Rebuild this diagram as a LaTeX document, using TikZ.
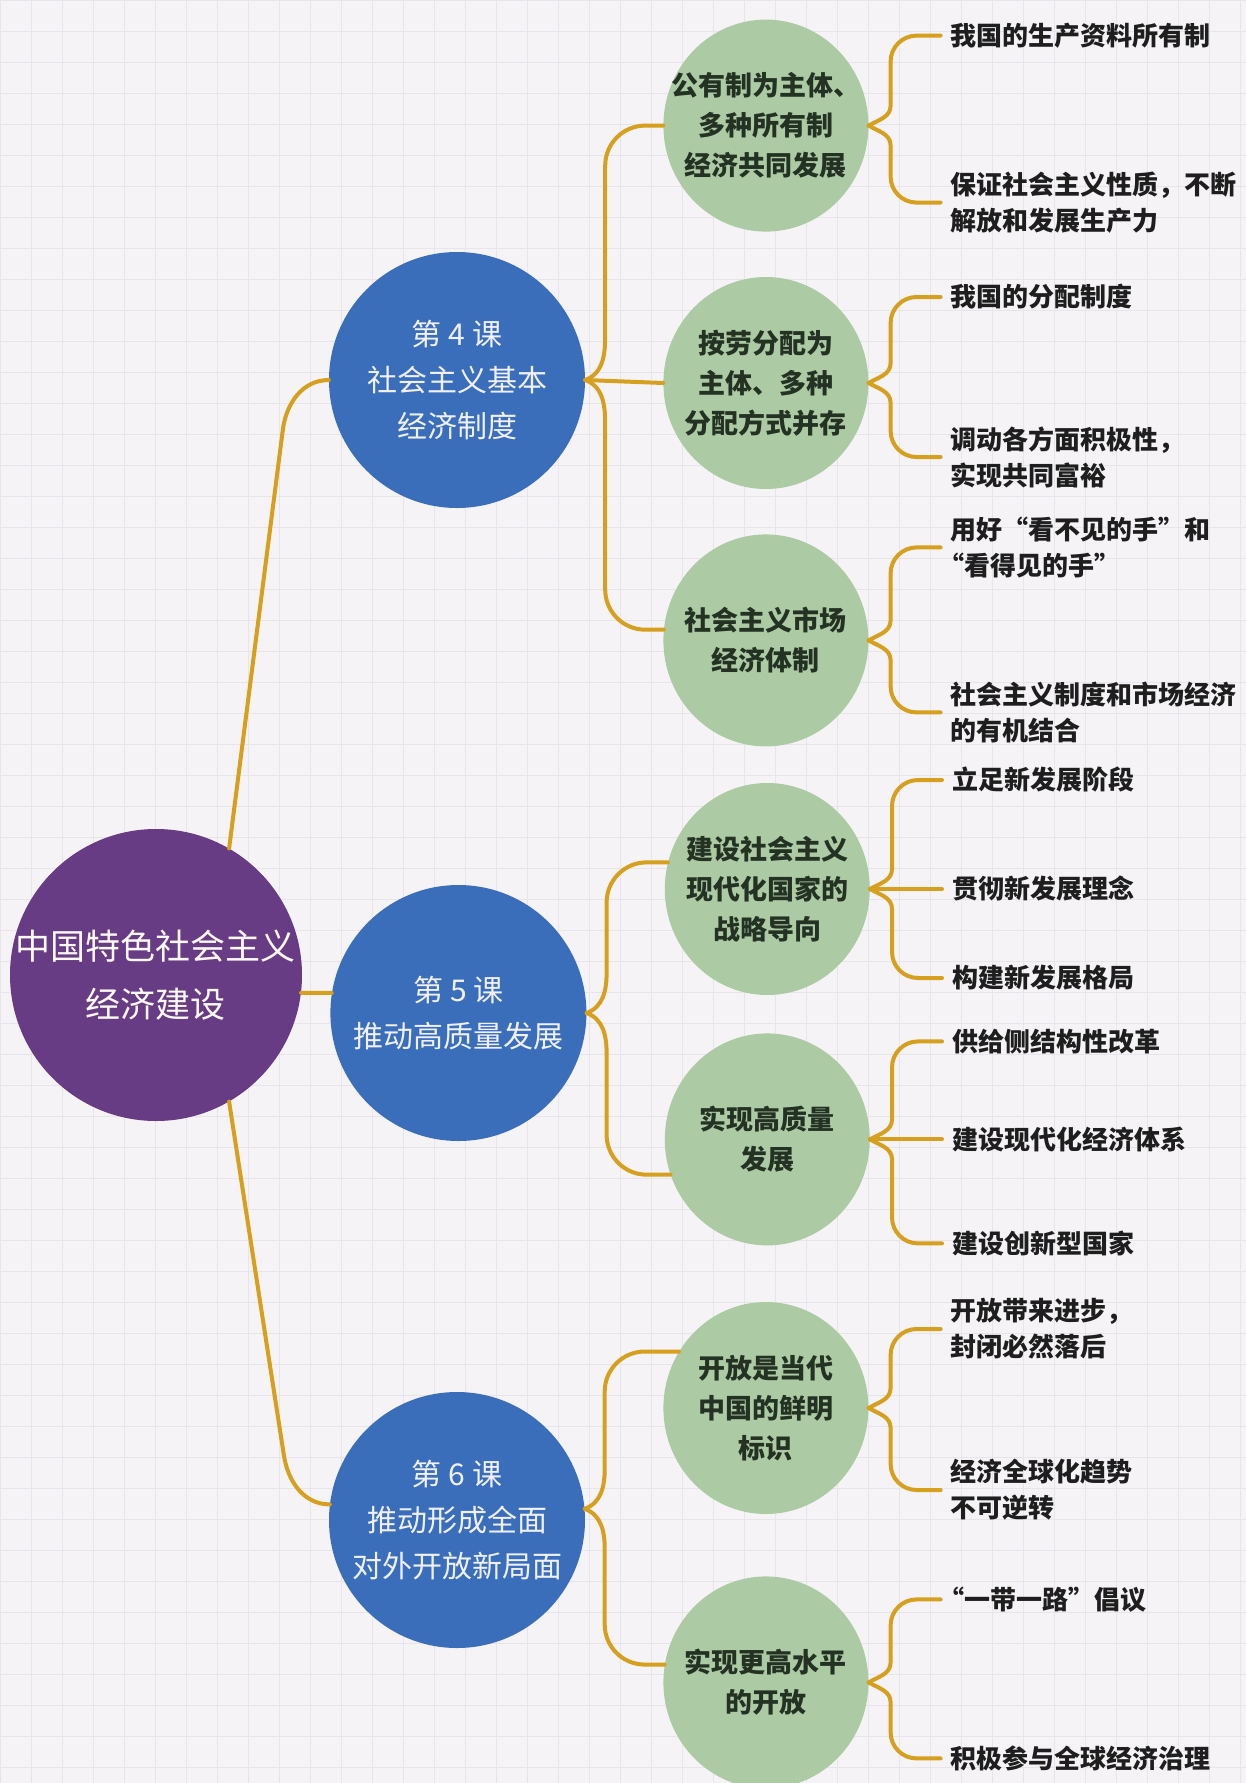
\documentclass[tikz,border=0pt]{standalone}
\usepackage{fontspec}
\setmainfont{Noto Sans CJK SC}
\usetikzlibrary{positioning,calc,shapes.geometric}

\definecolor{rootpurple}{RGB}{104,60,132}
\definecolor{lessonblue}{RGB}{58,110,186}
\definecolor{pointgreen}{RGB}{172,202,163}
\definecolor{linegold}{RGB}{214,160,30}
\definecolor{paper}{RGB}{245,243,246}
\definecolor{gridgray}{RGB}{231,229,234}
\definecolor{pointtext}{RGB}{36,50,36}
\definecolor{leaftext}{RGB}{30,30,30}

\tikzstyle{root_circle} = [circle,
						   fill=rootpurple,
						   minimum size=292pt,
						   inner sep=-10pt,
						   align=center,
						   text=white!90!pink,
						   font=\fontsize{35}{58}\selectfont]
\tikzstyle{lesson_circle} = [circle,
							 fill=lessonblue,
							 minimum size=256pt,
							 inner sep=0pt,
							 align=center,
							 text=white!94!blue,
							 font=\fontsize{30}{46}\selectfont]
\tikzstyle{point_circle} = [ellipse,
							fill=pointgreen,
							minimum width=205pt,
							minimum height=212pt,
							inner sep=-25pt,
							align=center,
							text=pointtext,
							font=\bfseries\fontsize{27}{40}\selectfont]
\tikzstyle{leaf_text} = [inner xsep=10pt,
						 inner ysep=0pt,
						 align=left,
						 text=leaftext,
						 font=\bfseries\fontsize{26}{36}\selectfont]
\tikzstyle{branch_line} = [draw=linegold,
						   line width=4pt,
						   line cap=round]

\begin{document}
\begin{tikzpicture}[x=1pt,y=1pt]

        \useasboundingbox (0,0) rectangle (1246,-1783);
        \fill[paper] (0,0) rectangle (1246,-1783);
        \draw[gridgray, line width=1pt, step=31pt] (0,0) grid (1246,-1783);

        %%%%%%%%%%%%
        % ROOT     %
        %%%%%%%%%%%%
        \node[root_circle] (root) at (156,-975) {中国特色社会主义\\经济建设};

        %%%%%%%%%%%%
        % LESSONS  %
        %%%%%%%%%%%%
        \node[lesson_circle] (l4) at (457,-380) {第 4 课\\社会主义基本\\经济制度};
        \node[lesson_circle, right=28pt of root, yshift=-38pt] (l5) {第 5 课\\推动高质量发展};
        \node[lesson_circle] (l6) at (457,-1520) {第 6 课\\推动形成全面\\对外开放新局面};

        %%%%%%%%%%%%
        % POINTS   %
        %%%%%%%%%%%%
        \node[point_circle, right=78pt of l4, yshift=-3pt] (p2) {按劳分配为\\主体、多种\\分配方式并存};
        \node[point_circle, above=45pt of p2] (p1) {公有制为主体、\\多种所有制\\经济共同发展};
        \node[point_circle, below=45pt of p2] (p3) {社会主义市场\\经济体制};
        \node[point_circle, right=78pt of l5, yshift=124pt] (p4) {建设社会主义\\现代化国家的\\战略导向};
        \node[point_circle, below=38pt of p4] (p5) {实现高质量\\发展};
        \node[point_circle, right=78pt of l6, yshift=112pt] (p6) {开放是当代\\中国的鲜明\\标识};
        \node[point_circle, below=62pt of p6] (p7) {实现更高水平\\的开放};

        %%%%%%%%%%%%
        % LEAVES   %
        %%%%%%%%%%%%
        \node[leaf_text, right=72pt of p1, yshift=90pt] (a1) {我国的生产资料所有制};
        \node[leaf_text, right=72pt of p1, yshift=-77pt] (a2) {保证社会主义性质，不断\\解放和发展生产力};
        \node[leaf_text, right=72pt of p2, yshift=86pt] (b1) {我国的分配制度};
        \node[leaf_text, right=72pt of p2, yshift=-74pt] (b2) {调动各方面积极性，\\实现共同富裕};
        \node[leaf_text, right=72pt of p3, yshift=93pt] (c1) {用好“看不见的手”和\\\kern-12pt“看得见的手”};
        \node[leaf_text, right=72pt of p3, yshift=-72pt] (c2) {社会主义制度和市场经济\\的有机结合};
        \node[leaf_text, right=72pt of p4, yshift=109pt] (d1) {立足新发展阶段};
        \node[leaf_text, right=72pt of p4] (d2) {贯彻新发展理念};
        \node[leaf_text, right=72pt of p4, yshift=-89pt] (d3) {构建新发展格局};
        \node[leaf_text, right=72pt of p5, yshift=98pt] (e1) {供给侧结构性改革};
        \node[leaf_text, right=72pt of p5] (e2) {建设现代化经济体系};
        \node[leaf_text, right=72pt of p5, yshift=-104pt] (e3) {建设创新型国家};
        \node[leaf_text, right=72pt of p6, yshift=79pt] (f1) {开放带来进步，\\封闭必然落后};
        \node[leaf_text, right=72pt of p6, yshift=-82pt] (f2) {经济全球化趋势\\不可逆转};
        \node[leaf_text, right=72pt of p7, yshift=83pt] (g1) {\kern-12pt“一带一路”倡议};
        \node[leaf_text, right=72pt of p7, yshift=-76pt] (g2) {积极参与全球经济治理};

        %%%%%%%%%%%%
        % LINKS    %
        %%%%%%%%%%%%
        % root to lessons
        \draw[branch_line] (root.60) -- ([xshift=-46pt,yshift=-50pt]l4.west) to[out=83,in=180] (l4.west);
        \draw[branch_line] (root.-7) -- (l5.171);
        \draw[branch_line] (root.-60) -- ([xshift=-46pt,yshift=50pt]l6.173) to[out=-82,in=180] (l6.173);

        % lessons to points
        \draw[branch_line] (l4.east) to[out=20,in=-90] ++(20,45) [rounded corners=40pt] |- (p1.180);
        \draw[branch_line] (l4.east) -- (p2.west);
        \draw[branch_line] (l4.east) to[out=-20,in=90] ++(20,-45) [rounded corners=40pt] |- (p3.174);
        \draw[branch_line] (l5.east) to[out=20,in=-90] ++(20,40) [rounded corners=40pt] |- (p4.165);
        \draw[branch_line] (l5.east) to[out=-20,in=90] ++(20,-40) [rounded corners=40pt] |- (p5.200);
        \draw[branch_line] (l6.5) to[out=20,in=-90] ++(20,40) [rounded corners=40pt] |- (p6.147);
        \draw[branch_line] (l6.5) to[out=-20,in=90] ++(20,-40) [rounded corners=40pt] |- (p7.170);

        % points to leaves
        \draw[branch_line] (p1.east) to[out=30,in=-90] ++(22,20) [rounded corners=26pt] |- (a1.west);
        \draw[branch_line] (p1.east) to[out=-30,in=90] ++(22,-20) [rounded corners=26pt] |- (a2.west);
        \draw[branch_line] (p2.east) to[out=30,in=-90] ++(22,20) [rounded corners=26pt] |- (b1.west);
        \draw[branch_line] (p2.east) to[out=-30,in=90] ++(22,-20) [rounded corners=26pt] |- (b2.west);
        \draw[branch_line] (p3.east) to[out=30,in=-90] ++(22,20) [rounded corners=26pt] |- (c1.west);
        \draw[branch_line] (p3.east) to[out=-30,in=90] ++(22,-20) [rounded corners=26pt] |- (c2.west);
        \draw[branch_line] (p4.east) to[out=30,in=-90] ++(22,20) [rounded corners=26pt] |- (d1.west);
        \draw[branch_line] (p4.east) -- (d2.west);
        \draw[branch_line] (p4.east) to[out=-30,in=90] ++(22,-20) [rounded corners=26pt] |- (d3.west);
        \draw[branch_line] (p5.east) to[out=30,in=-90] ++(22,20) [rounded corners=26pt] |- (e1.west);
        \draw[branch_line] (p5.east) -- (e2.west);
        \draw[branch_line] (p5.east) to[out=-30,in=90] ++(22,-20) [rounded corners=26pt] |- (e3.west);
        \draw[branch_line] (p6.east) to[out=30,in=-90] ++(22,20) [rounded corners=26pt] |- (f1.west);
        \draw[branch_line] (p6.east) to[out=-30,in=90] ++(22,-20) [rounded corners=26pt] |- (f2.west);
        \draw[branch_line] (p7.east) to[out=30,in=-90] ++(22,20) [rounded corners=26pt] |- (g1.west);
        \draw[branch_line] (p7.east) to[out=-30,in=90] ++(22,-20) [rounded corners=26pt] |- (g2.west);

\end{tikzpicture}
\end{document}
